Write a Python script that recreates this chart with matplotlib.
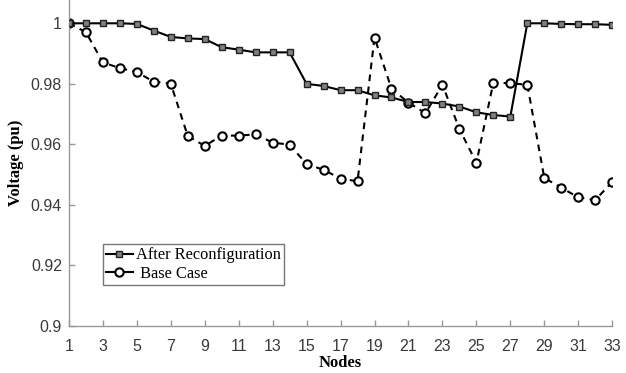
import matplotlib
matplotlib.use("Agg")
import matplotlib.pyplot as plt
from matplotlib.lines import Line2D

nodes = list(range(1, 34))
after_reconfig = [1.0, 1.0, 1.0, 1.0, 0.9998, 0.9976, 0.9955, 0.995, 0.9948, 0.9921,
                  0.9913, 0.9904, 0.9904, 0.9904, 0.980, 0.9793, 0.9779, 0.9779, 0.9762, 0.9755,
                  0.974, 0.974, 0.9735, 0.9725, 0.9706, 0.9697, 0.9692, 1.0, 1.0, 0.9998,
                  0.9997, 0.9997, 0.9995]
base_case = [1.0, 0.9971, 0.9871, 0.9852, 0.9839, 0.9807, 0.9801, 0.9628, 0.9595, 0.9629,
             0.9629, 0.9633, 0.9606, 0.9599, 0.9535, 0.9516, 0.9487, 0.9478, 0.9953, 0.9784,
             0.9738, 0.9703, 0.9797, 0.9651, 0.9539, 0.9804, 0.9802, 0.9797, 0.9489, 0.9457,
             0.9425, 0.9416, 0.9476]
xticks = list(range(1, 34, 2))
yticks = [0.9, 0.92, 0.94, 0.96, 0.98, 1.0]
ytick_labels = ["0.9", "0.92", "0.94", "0.96", "0.98", "1"]

fig = plt.figure(figsize=(6.26, 3.73), dpi=100)
ax = fig.add_axes([0.110, 0.126, 0.868, 0.874])

ax.plot(nodes, base_case, color="black", linestyle=(0, (3.2, 2.6)), linewidth=1.5,
        marker="o", markersize=6, markerfacecolor="white", markeredgecolor="black",
        markeredgewidth=1.5, zorder=2)
ax.plot(nodes, after_reconfig, color="black", linestyle="-", linewidth=1.5,
        marker="s", markersize=4.3, markerfacecolor="#808080", markeredgecolor="#222222",
        markeredgewidth=1.0, zorder=3)

ax.set_xlim(1, 33)
ax.set_ylim(0.9, 1.0077)
ax.set_xticks(xticks)
ax.set_xticklabels([str(t) for t in xticks])
ax.set_yticks(yticks)
ax.set_yticklabels(ytick_labels)

for s in ["top", "right"]:
    ax.spines[s].set_visible(False)
for s in ["left", "bottom"]:
    ax.spines[s].set_color("#999999")
    ax.spines[s].set_linewidth(1.0)
ax.tick_params(direction="in", length=4, color="#999999", labelcolor="#3a3a3a",
               labelsize=11.5, width=1.0)
for lbl in ax.get_xticklabels() + ax.get_yticklabels():
    lbl.set_family("Liberation Sans")
ax.tick_params(axis="x", pad=9)
ax.tick_params(axis="y", pad=5)

ax.set_xlabel("Nodes", family="Liberation Serif", fontweight="bold", fontsize=12, labelpad=1)
ax.set_ylabel("Voltage (pu)", family="Liberation Serif", fontweight="bold", fontsize=12, labelpad=5)

handles = [
    Line2D([], [], color="black", linewidth=1.5, marker="s", markersize=4.3,
           markerfacecolor="#808080", markeredgecolor="#222222"),
    Line2D([], [], color="black", linewidth=1.5, marker="o", markersize=6,
           markerfacecolor="white", markeredgecolor="black", markeredgewidth=1.5),
]
leg = ax.legend(handles, ["After Reconfiguration", " Base Case"],
                loc="upper left", bbox_to_anchor=(103 / 626, 1 - 244 / 373),
                bbox_transform=fig.transFigure,
                prop={"family": "Liberation Serif", "size": 11.8},
                frameon=True, fancybox=False, edgecolor="#555555",
                handlelength=1.6, handletextpad=0.2, borderpad=0.2,
                labelspacing=0.15, borderaxespad=0)
leg.get_frame().set_linewidth(1.0)

fig.savefig("out.png", dpi=100)
